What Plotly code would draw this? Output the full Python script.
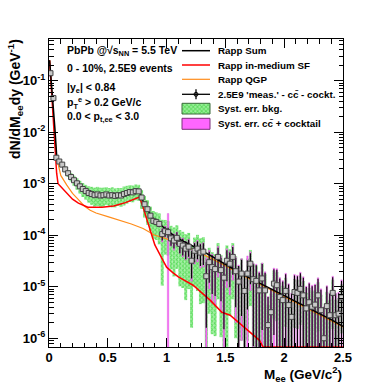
import numpy as np
import plotly.graph_objects as go

# ---------------- data ----------------
# bin centres of the invariant-mass histogram (0-2.5 GeV/c^2, 100 bins)
mass = [round(0.0125 + 0.025 * i, 4) for i in range(100)]

meas = [1.4e-1, 4.6e-2, 3.2e-3, 2.7e-3, 2.35e-3, 1.9e-3, 1.6e-3, 1.35e-3, 1.17e-3, 1.02e-3,
        8.9e-4, 7.9e-4, 7.2e-4, 6.6e-4, 6.3e-4, 6.0e-4, 6.2e-4, 5.9e-4, 6.0e-4, 6.2e-4,
        5.9e-4, 6.0e-4, 5.8e-4, 6.0e-4, 5.9e-4, 6.3e-4, 6.6e-4, 6.9e-4, 6.8e-4, 7.2e-4,
        7.1e-4, 5.4e-4, 4.0e-4, 3.2e-4, 2.4e-4, 1.9e-4, 1.8e-4, 1.66e-4, 1.05e-4, 1.2e-4,
        1.15e-4, 8.7e-5, 7.9e-5, 8.9e-5, 6.8e-5, 6.3e-5, 5.5e-5, 6.0e-5, 3.2e-5, 5.0e-5,
        5.5e-5, 4.6e-5, 4.8e-5, 1.6e-5, 3.0e-5, 2.4e-5, 2.2e-5, 3.8e-5, 2.1e-5, 1.5e-5,
        3.2e-5, 2.8e-5, 3.8e-5, 2.0e-5, 1.26e-5, 1.8e-5, 8.3e-6, 1.8e-5, 2.8e-5, 1.4e-5,
        1.3e-5, 8.5e-6, 1.45e-5, 8.5e-6, 1.8e-6, 3.2e-6, 1.15e-5, 1.07e-5, 6.3e-6, 5.5e-6,
        8.3e-6, 4.4e-6, 2.6e-6, 7.9e-6, 7.6e-6, 9.1e-6, 6.8e-6, 3.8e-6, 5.0e-6, 4.1e-6,
        4.5e-6, 6.8e-6, 3.5e-6, 1.0e-6, 4.2e-6, 2.8e-6, 7.6e-6, 2.8e-6, 3.0e-6, 6.2e-6]

# relative statistical error
stat_rel = [0.02, 0.02, 0.03, 0.03, 0.03, 0.03, 0.03, 0.03, 0.03, 0.03,
            0.04, 0.04, 0.04, 0.04, 0.04, 0.04, 0.04, 0.04, 0.04, 0.04,
            0.04, 0.04, 0.04, 0.04, 0.04, 0.04, 0.04, 0.04, 0.04, 0.04,
            0.04, 0.06, 0.08, 0.09, 0.10, 0.12, 0.12, 0.14, 0.25, 0.22,
            0.22, 0.28, 0.30, 0.28, 0.34, 0.36, 0.38, 0.36, 0.55, 0.40,
            0.38, 0.45, 0.45, 0.90, 0.60, 0.70, 0.70, 0.50, 0.75, 0.90,
            0.60, 0.65, 0.55, 0.80, 1.00, 0.85, 1.20, 0.80, 0.60, 0.95,
            1.00, 1.20, 0.90, 1.20, 2.50, 1.80, 0.90, 1.00, 1.30, 1.30,
            1.10, 1.50, 1.80, 1.10, 1.10, 1.00, 1.20, 1.60, 1.30, 1.50,
            1.40, 1.10, 1.50, 3.00, 1.40, 1.60, 1.00, 1.60, 1.50, 1.10]

# relative systematic error, background (green)
bkg_rel = [0.02, 0.02, 0.05, 0.08, 0.10, 0.12, 0.15, 0.18, 0.22, 0.25,
           0.28, 0.30, 0.32, 0.35, 0.38, 0.40, 0.40, 0.42, 0.40, 0.38,
           0.40, 0.42, 0.40, 0.38, 0.40, 0.40, 0.38, 0.36, 0.36, 0.34,
           0.34, 0.40, 0.45, 0.50, 0.50, 0.55, 0.55, 0.60, 0.90, 0.65,
           0.65, 0.75, 0.80, 0.75, 0.85, 0.85, 0.90, 0.85, 0.95, 0.80,
           0.85, 0.90, 0.90, 1.50, 0.90, 0.95, 0.95, 0.85, 0.95, 1.00,
           0.98, 0.90, 0.85, 0.95, 1.00, 0.95, 1.20, 0.95, 0.85, 1.00,
           1.00, 1.10, 1.00, 1.10, 1.50, 1.30, 0.80, 0.80, 0.90, 0.90,
           0.80, 1.00, 1.10, 0.80, 0.80, 0.80, 0.90, 1.00, 0.90, 1.00,
           0.90, 0.80, 1.00, 1.50, 0.90, 1.00, 0.80, 1.00, 1.00, 0.80]

# relative systematic error, c-cbar + cocktail (magenta)
cc_rel = [0.15, 0.15, 0.10, 0.10, 0.10, 0.10, 0.10, 0.10, 0.10, 0.10,
          0.05, 0.05, 0.05, 0.05, 0.05, 0.05, 0.05, 0.05, 0.05, 0.05,
          0.05, 0.05, 0.05, 0.05, 0.05, 0.05, 0.05, 0.05, 0.05, 0.05,
          0.05, 0.05, 0.05, 0.05, 0.05, 0.05, 0.05, 0.05, 0.30, 0.25,
          1.30, 0.30, 0.35, 0.30, 0.35, 0.40, 0.40, 0.40, 0.60, 0.45,
          0.45, 0.50, 0.50, 1.30, 0.70, 0.80, 0.80, 0.60, 0.85, 1.00,
          0.70, 0.75, 0.65, 0.90, 1.10, 0.95, 1.30, 1.20, 0.70, 1.05,
          1.10, 1.30, 1.00, 1.30, 2.60, 1.90, 1.00, 1.10, 1.40, 1.40,
          1.20, 1.60, 1.90, 1.20, 1.20, 1.10, 1.30, 1.70, 1.40, 1.60,
          1.50, 1.20, 1.60, 3.10, 1.50, 1.70, 1.10, 1.70, 1.60, 1.20]

# Rapp model curves
sum_m = [0.005, 0.015, 0.025, 0.035, 0.05, 0.065, 0.08, 0.1, 0.125, 0.15, 0.2, 0.25, 0.3,
         0.35, 0.4, 0.45, 0.5, 0.55, 0.6, 0.65, 0.7, 0.75, 0.77, 0.8, 0.85, 0.9, 0.95, 1.0,
         1.1, 1.2, 1.3, 1.4, 1.5, 1.6, 1.7, 1.8, 1.9, 2.0, 2.1, 2.2, 2.3, 2.4, 2.5]
sum_y = [2.5e-1, 1.3e-1, 8.0e-2, 4.5e-2, 1.2e-2, 3.6e-3, 2.8e-3, 2.35e-3, 1.95e-3, 1.7e-3,
         1.25e-3, 9.6e-4, 7.6e-4, 6.6e-4, 6.1e-4, 5.9e-4, 5.9e-4, 5.9e-4, 6.0e-4, 6.4e-4,
         6.8e-4, 7.2e-4, 7.0e-4, 4.6e-4, 2.8e-4, 1.9e-4, 1.6e-4, 1.25e-4, 8.6e-5, 6.6e-5,
         5.0e-5, 3.7e-5, 2.7e-5, 2.0e-5, 1.5e-5, 1.15e-5, 8.7e-6, 6.8e-6, 5.2e-6, 4.0e-6,
         3.0e-6, 2.3e-6, 1.7e-6]

sf_m = [0.005, 0.015, 0.025, 0.035, 0.05, 0.065, 0.077, 0.1, 0.13, 0.2, 0.25, 0.33, 0.45,
        0.55, 0.65, 0.72, 0.77, 0.8, 0.86, 0.9, 0.97, 1.0, 1.05, 1.1, 1.225, 1.37, 1.47,
        1.51, 1.54, 1.79, 1.82, 1.85, 2.0, 2.2, 2.5]
sf_y = [2.5e-1, 1.0e-1, 4.0e-2, 1.5e-2, 4.0e-3, 1.6e-3, 1.0e-3, 8.8e-4, 7.5e-4, 5.0e-4,
        4.2e-4, 3.5e-4, 3.5e-4, 3.7e-4, 4.3e-4, 5.0e-4, 5.5e-4, 3.5e-4, 1.2e-4, 6.5e-5,
        3.2e-5, 2.4e-5, 1.9e-5, 1.55e-5, 1.07e-5, 5.5e-6, 3.2e-6, 3.0e-6, 2.8e-6, 9.1e-7,
        6.5e-7, 0.0, 0.0, 0.0, 0.0]

qgp_m = [0.005, 0.015, 0.025, 0.035, 0.05, 0.065, 0.08, 0.1, 0.15, 0.2, 0.25, 0.3, 0.35,
         0.4, 0.5, 0.6, 0.7, 0.8, 0.85, 0.9, 1.0, 1.1, 1.2, 1.3, 1.4, 1.5, 1.6, 1.7, 1.8,
         1.9, 2.0, 2.1, 2.2, 2.3, 2.4, 2.5]
qgp_y = [2.5e-1, 1.0e-1, 5.0e-2, 2.5e-2, 8.0e-3, 3.2e-3, 2.3e-3, 1.45e-3, 9.5e-4, 6.5e-4,
         4.9e-4, 3.7e-4, 3.05e-4, 2.7e-4, 2.3e-4, 1.95e-4, 1.65e-4, 1.35e-4, 1.15e-4, 1.0e-4,
         8.5e-5, 7.0e-5, 5.6e-5, 4.4e-5, 3.4e-5, 2.55e-5, 1.9e-5, 1.45e-5, 1.1e-5, 8.4e-6,
         6.5e-6, 5.0e-6, 3.85e-6, 2.9e-6, 2.2e-6, 1.65e-6]

x_ticks = [0, 0.5, 1, 1.5, 2, 2.5]
x_ticklabels = ["0", "0.5", "1", "1.5", "2", "2.5"]
y_ticks = [1e-6, 1e-5, 1e-4, 1e-3, 1e-2, 1e-1]
y_ticklabels = ["10<sup>-6</sup>", "10<sup>-5</sup>", "10<sup>-4</sup>",
                "10<sup>-3</sup>", "10<sup>-2</sup>", "10<sup>-1</sup>"]

legend_labels = ["Rapp Sum", "Rapp in-medium SF", "Rapp QGP",
                 "2.5E9 'meas.' - cc\u0304 - cockt.", "Syst. err. bkg.",
                 "Syst. err. cc\u0304 + cocktail"]
info_lines = ["PbPb @\u221as<sub>NN</sub> = 5.5 TeV", "0 - 10%, 2.5E9 events",
              "|y<sub>e</sub>| &lt; 0.84", "p<sub>T</sub><sup>e</sup> &gt; 0.2 GeV/c",
              "0.0 &lt; p<sub>t,ee</sub> &lt; 3.0"]

# ---------------- layout constants ----------------
W, H = 382, 386
L, R, T, B = 49, 39, 39, 39
PW, PH = W - L - R, H - T - B
YLOG = [-6.17, -0.19]
FLOOR = 10 ** -6.4
FONT = "Liberation Sans"

GREEN_BG = "#9cf09c"
GREEN_FG = "#1fc41f"
MAGENTA = "#ff66ff"


def px(x):
    return (x - L) / PW


def py(y):
    return (H - B - y) / PH


m = np.array(mass)
y = np.array(meas)

fig = go.Figure()

# green systematic boxes
lo = np.maximum(y * (1 - np.array(bkg_rel)), FLOOR)
hi = y * (1 + np.array(bkg_rel))
fig.add_trace(go.Bar(x=m, y=hi - lo, base=lo, width=0.025,
                     marker=dict(color=GREEN_BG, line=dict(width=0),
                                 pattern=dict(shape="x", fgcolor=GREEN_FG, size=3,
                                              solidity=0.5, fillmode="overlay")),
                     showlegend=False, hoverinfo="skip"))
# magenta systematic boxes
lo2 = np.maximum(y * (1 - np.array(cc_rel)), FLOOR)
hi2 = y * (1 + np.array(cc_rel))
fig.add_trace(go.Bar(x=m, y=hi2 - lo2, base=lo2, width=0.013,
                     marker=dict(color=MAGENTA, line=dict(width=0.3, color="#c050c0")),
                     showlegend=False, hoverinfo="skip"))

ybot = 10 ** YLOG[0]
fig.add_trace(go.Scatter(x=qgp_m, y=qgp_y, mode="lines",
                         line=dict(color="#ff8c1a", width=1.2), showlegend=False))
fig.add_trace(go.Scatter(x=sf_m, y=np.maximum(np.array(sf_y), ybot * 1.005), mode="lines",
                         line=dict(color="#ff0000", width=1.5), showlegend=False))
fig.add_trace(go.Scatter(x=sum_m, y=sum_y, mode="lines",
                         line=dict(color="black", width=1.5), showlegend=False))

err = y * np.array(stat_rel)
errm = np.minimum(err, y - FLOOR)
fig.add_trace(go.Scatter(x=m, y=y, mode="markers",
                         marker=dict(symbol="square", size=5, color="#c8c8c8",
                                     line=dict(color="#444444", width=1)),
                         error_y=dict(type="data", array=err, arrayminus=errm,
                                      color="black", thickness=1.1, width=0),
                         showlegend=False))

# ---------------- manual legend (overlay axes 0..1 over plot area) ----------------
rows = [50.7, 65.0, 79.3, 94.3, 108.3, 123.3]
x0, x1 = px(182), px(210)
xc = (x0 + x1) / 2
for col, wdt, r in [("black", 1.5, rows[0]), ("#ff0000", 1.5, rows[1]), ("#ff8c1a", 1.2, rows[2])]:
    fig.add_trace(go.Scatter(x=[x0, x1], y=[py(r), py(r)], mode="lines", xaxis="x2", yaxis="y2",
                             line=dict(color=col, width=wdt), showlegend=False, hoverinfo="skip"))
fig.add_trace(go.Scatter(x=[x0, x1], y=[py(rows[3])] * 2, mode="lines", xaxis="x2", yaxis="y2",
                         line=dict(color="black", width=1.3), showlegend=False, hoverinfo="skip"))
fig.add_trace(go.Scatter(x=[xc], y=[py(rows[3])], mode="markers", xaxis="x2", yaxis="y2",
                         marker=dict(symbol="circle-open", size=4, color="black", line=dict(width=1)),
                         error_y=dict(type="constant", value=5 / PH, color="black", thickness=1.3, width=0),
                         showlegend=False, hoverinfo="skip"))
fig.add_trace(go.Bar(x=[xc], y=[(114 - 103.3) / PH], base=[py(114)], width=x1 - x0,
                     xaxis="x2", yaxis="y2",
                     marker=dict(color=GREEN_BG, line=dict(width=1, color="#3a6a3a"),
                                 pattern=dict(shape="x", fgcolor=GREEN_FG, size=3,
                                              solidity=0.5, fillmode="overlay")),
                     showlegend=False, hoverinfo="skip"))
fig.add_trace(go.Bar(x=[xc], y=[(129.3 - 118.3) / PH], base=[py(129.3)], width=x1 - x0,
                     xaxis="x2", yaxis="y2",
                     marker=dict(color=MAGENTA, line=dict(width=1, color="#7a307a")),
                     showlegend=False, hoverinfo="skip"))

annotations = []
for txt, r in zip(legend_labels, rows):
    annotations.append(dict(text="<b>" + txt + "</b>", x=px(216), y=py(r), xref="paper", yref="paper",
                            xanchor="left", yanchor="middle", showarrow=False,
                            font=dict(family=FONT, size=9.8, color="black")))
for txt, r in zip(info_lines, [50.7, 68.3, 88.3, 103.3, 116.7]):
    annotations.append(dict(text="<b>" + txt + "</b>", x=px(65), y=py(r), xref="paper", yref="paper",
                            xanchor="left", yanchor="middle", showarrow=False,
                            font=dict(family=FONT, size=10.5, color="black")))
annotations.append(dict(text="<b>dN/dM<sub>ee</sub>dy (GeV<sup>-1</sup>)</b>", textangle=-90,
                        x=px(15), y=py(37), xref="paper", yref="paper", xanchor="center",
                        yanchor="top", showarrow=False, font=dict(family=FONT, size=14, color="black")))
annotations.append(dict(text="<b>M<sub>ee</sub> (GeV/c<sup>2</sup>)</b>",
                        x=px(344), y=py(374), xref="paper", yref="paper", xanchor="right",
                        yanchor="middle", showarrow=False, font=dict(family=FONT, size=13.5, color="black")))

minor_y = [k * 10.0 ** e for e in range(-7, 0) for k in range(2, 10)]

fig.update_layout(
    width=W, height=H, margin=dict(l=L, r=R, t=T, b=B, autoexpand=False),
    paper_bgcolor="white", plot_bgcolor="white", barmode="overlay",
    showlegend=False, annotations=annotations,
    xaxis=dict(range=[0, 2.5], tickvals=x_ticks, ticktext=["<b>" + t + "</b>" for t in x_ticklabels],
               ticks="inside", ticklen=9, tickwidth=1, tickcolor="black", automargin=False,
               minor=dict(dtick=0.1, tick0=0, ticks="inside", ticklen=4.5, tickcolor="black", tickwidth=1),
               showline=True, linecolor="black", linewidth=1, mirror="allticks",
               showgrid=False, zeroline=False, ticklabelstandoff=-2,
               tickfont=dict(family=FONT, size=13, color="black")),
    yaxis=dict(type="log", range=YLOG, tickvals=y_ticks,
               ticktext=["<b>" + t + "</b>" for t in y_ticklabels],
               ticks="inside", ticklen=9, tickwidth=1, tickcolor="black", automargin=False,
               minor=dict(tickvals=minor_y, ticks="inside", ticklen=4.5, tickcolor="black", tickwidth=1),
               showline=True, linecolor="black", linewidth=1, mirror="allticks",
               showgrid=False, zeroline=False,
               tickfont=dict(family=FONT, size=13, color="black")),
    xaxis2=dict(overlaying="x", anchor="y2", range=[0, 1], visible=False, fixedrange=True),
    yaxis2=dict(overlaying="y", anchor="x2", range=[0, 1], visible=False, fixedrange=True),
)

fig.write_html("out.html", config={"displayModeBar": False},
               post_script="document.body.style.margin='0';")
